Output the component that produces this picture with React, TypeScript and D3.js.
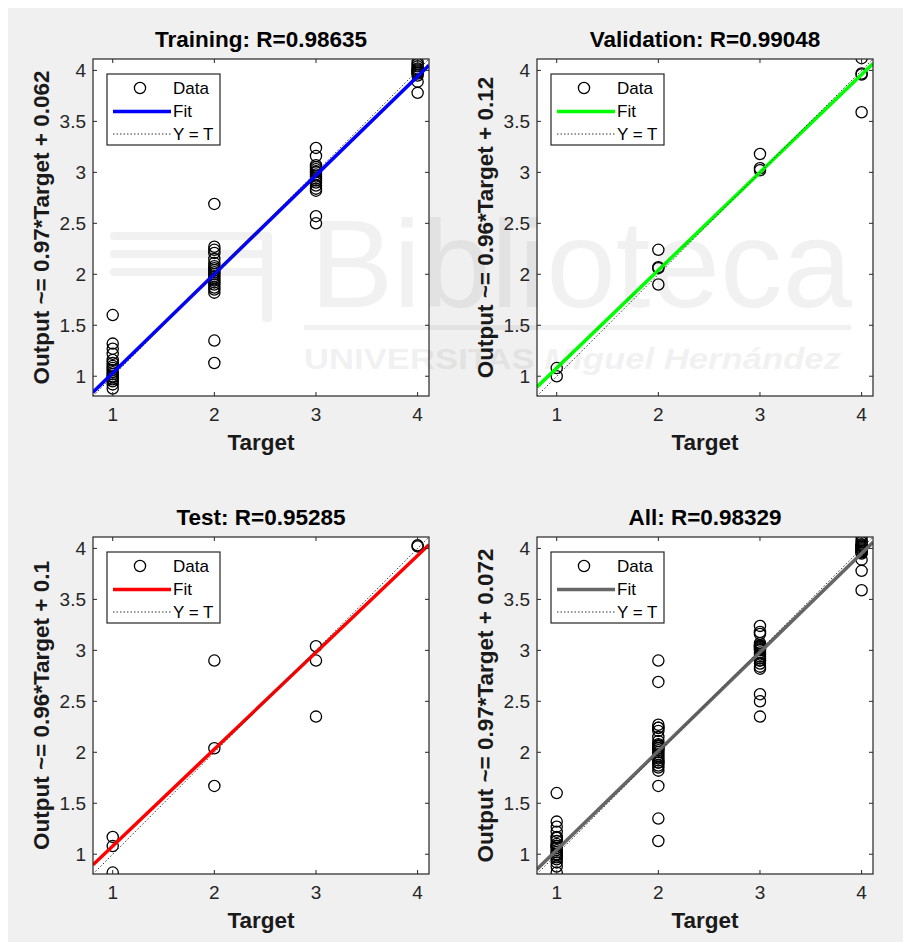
import React from "react";
import * as d3 from "d3";

// values
const targets = [1, 2, 3, 4];

const trainingOutputs = [
  [1.6, 1.32, 1.27, 1.22, 1.16, 1.13, 1.1, 1.08, 1.06, 1.04, 1.02, 1.0, 0.99, 0.97, 0.95, 0.92, 0.88],
  [2.69, 2.27, 2.24, 2.21, 2.15, 2.11, 2.08, 2.06, 2.04, 2.02, 2.0, 1.98, 1.96, 1.94, 1.92, 1.9, 1.87, 1.85, 1.82, 1.35, 1.13],
  [3.24, 3.16, 3.07, 3.05, 3.03, 3.01, 3.0, 2.98, 2.96, 2.94, 2.92, 2.9, 2.87, 2.84, 2.82, 2.57, 2.5],
  [4.08, 4.06, 4.04, 4.02, 4.01, 4.0, 3.99, 3.98, 3.97, 3.95, 3.89, 3.78],
];

const validationOutputs = [
  [1.08, 1.0],
  [2.24, 2.07, 2.06, 1.9],
  [3.18, 3.04, 3.02],
  [4.12, 3.97, 3.96, 3.59],
];

const testOutputs = [
  [1.17, 1.08, 0.82],
  [2.9, 2.04, 1.67],
  [3.04, 2.9, 2.35],
  [4.03, 4.02],
];

// "All" is just the three sets together
const allOutputs = targets.map((_, i) => [
  ...trainingOutputs[i],
  ...validationOutputs[i],
  ...testOutputs[i],
]);

const panelTitles = ["Training: R=0.98635", "Validation: R=0.99048", "Test: R=0.95285", "All: R=0.98329"];
const yLabels = [
  "Output ~= 0.97*Target + 0.062",
  "Output ~= 0.96*Target + 0.12",
  "Output ~= 0.96*Target + 0.1",
  "Output ~= 0.97*Target + 0.072",
];
const fitSlopes = [0.97, 0.96, 0.95, 0.97];
const fitIntercepts = [0.062, 0.12, 0.13, 0.072];

const axisLimits = [0.806, 4.112];
const xTicks = [1, 2, 3, 4];
const yTicks = [1, 1.5, 2, 2.5, 3, 3.5, 4];
const legendLabels = ["Data", "Fit", "Y = T"];

const panelData = [trainingOutputs, validationOutputs, testOutputs, allOutputs];
const fitColors = ["#0000ff", "#00ff00", "#ff0000", "#666666"];

const W = 336;
const H = 337;
const colX = [93, 537];
const rowY = [59, 537];
const axisColor = "#262626";
const font = "'Liberation Sans', Arial, sans-serif";

function Panel({ idx }: { idx: number }) {
  const ox = colX[idx % 2];
  const oy = rowY[Math.floor(idx / 2)];
  const x = d3.scaleLinear().domain(axisLimits).range([0, W]);
  const y = d3.scaleLinear().domain(axisLimits).range([H, 0]);

  const points = panelData[idx].flatMap((outs, i) => outs.map((o) => ({ t: targets[i], o })));
  const fitLine = d3.line<number>()
    .x((d) => x(d))
    .y((d) => y(fitSlopes[idx] * d + fitIntercepts[idx]));
  const idLine = d3.line<number>()
    .x((d) => x(d))
    .y((d) => y(d));
  const clipId = `clip${idx}`;

  return (
    <g transform={`translate(${ox},${oy})`} fontFamily={font}>
      <defs>
        <clipPath id={clipId}>
          <rect x={0} y={0} width={W} height={H} />
        </clipPath>
      </defs>
      <rect x={0} y={0} width={W} height={H} fill="#fff" />

      <g clipPath={`url(#${clipId})`}>
        {points.map((p, k) => (
          <circle key={k} cx={x(p.t)} cy={y(p.o)} r={5.6} fill="none" stroke="#000" strokeWidth={1.3} />
        ))}
        <path d={fitLine(axisLimits) || ""} stroke={fitColors[idx]} strokeWidth={3.5} fill="none" />
        <path d={idLine(axisLimits) || ""} stroke="#333" strokeWidth={1} strokeDasharray="1.5 2" fill="none" />
      </g>

      {/* ticks on all four sides, pointing in */}
      {xTicks.map((t) => (
        <g key={"x" + t}>
          <line x1={x(t)} x2={x(t)} y1={H} y2={H - 4} stroke={axisColor} />
          <line x1={x(t)} x2={x(t)} y1={0} y2={4} stroke={axisColor} />
          <text x={x(t)} y={H + 25} textAnchor="middle" fontSize={19} fill={axisColor}>
            {t}
          </text>
        </g>
      ))}
      {yTicks.map((t) => (
        <g key={"y" + t}>
          <line x1={0} x2={4} y1={y(t)} y2={y(t)} stroke={axisColor} />
          <line x1={W} x2={W - 4} y1={y(t)} y2={y(t)} stroke={axisColor} />
          <text x={-7} y={y(t)} dy="0.36em" textAnchor="end" fontSize={19} fill={axisColor}>
            {t}
          </text>
        </g>
      ))}
      <rect x={0} y={0} width={W} height={H} fill="none" stroke={axisColor} strokeWidth={1.2} />

      <text x={W / 2} y={-12} textAnchor="middle" fontSize={22.5} fontWeight="bold" fill="#000">
        {panelTitles[idx]}
      </text>
      <text x={W / 2} y={H + 54} textAnchor="middle" fontSize={22.5} fontWeight="bold" fill="#1a1a1a">
        Target
      </text>
      <text
        transform={`translate(-44,${H / 2}) rotate(-90)`}
        textAnchor="middle"
        fontSize={22.5}
        fontWeight="bold"
        fill="#1a1a1a"
      >
        {yLabels[idx]}
      </text>

      {/* legend */}
      <g transform="translate(14,15)">
        <rect x={0} y={0} width={113} height={71} fill="#fff" stroke={axisColor} strokeWidth={1.2} />
        <circle cx={33} cy={14} r={5.6} fill="none" stroke="#000" strokeWidth={1.3} />
        <line x1={6} x2={64} y1={37.5} y2={37.5} stroke={fitColors[idx]} strokeWidth={3.5} />
        <line x1={6} x2={64} y1={60} y2={60} stroke="#333" strokeWidth={1} strokeDasharray="1.5 2" />
        {legendLabels.map((l, k) => (
          <text key={l} x={66} y={14 + k * 23} dy="0.36em" fontSize={17} fill="#000">
            {l}
          </text>
        ))}
      </g>
    </g>
  );
}

// faint library watermark lying over the figure
function Watermark() {
  return (
    <g opacity={0.05} fill="#000" fontFamily={font} pointerEvents="none">
      <rect x={110} y={232} width={160} height={8} rx={4} />
      <rect x={110} y={250} width={160} height={8} rx={4} />
      <rect x={110} y={268} width={160} height={8} rx={4} />
      <rect x={262} y={232} width={10} height={90} rx={4} />
      <text x={310} y={307} fontSize={125}>
        Biblioteca
      </text>
      <rect x={304} y={325} width={547} height={5} />
      <text x={304} y={369} fontSize={30} textLength={537} lengthAdjust="spacingAndGlyphs">
        <tspan fontWeight="bold">UNIVERSITAS </tspan>
        <tspan fontStyle="italic" fontWeight="bold">Miguel Hernández</tspan>
      </text>
    </g>
  );
}

export default function App() {
  return (
    <svg
      width={903}
      height={942}
      style={{ position: "absolute", left: 0, top: 0, background: "#fff" }}
    >
      <rect x={8} y={8} width={895} height={934} fill="#f0f0f0" />
      {[0, 1, 2, 3].map((i) => (
        <Panel key={i} idx={i} />
      ))}
      <Watermark />
    </svg>
  );
}
